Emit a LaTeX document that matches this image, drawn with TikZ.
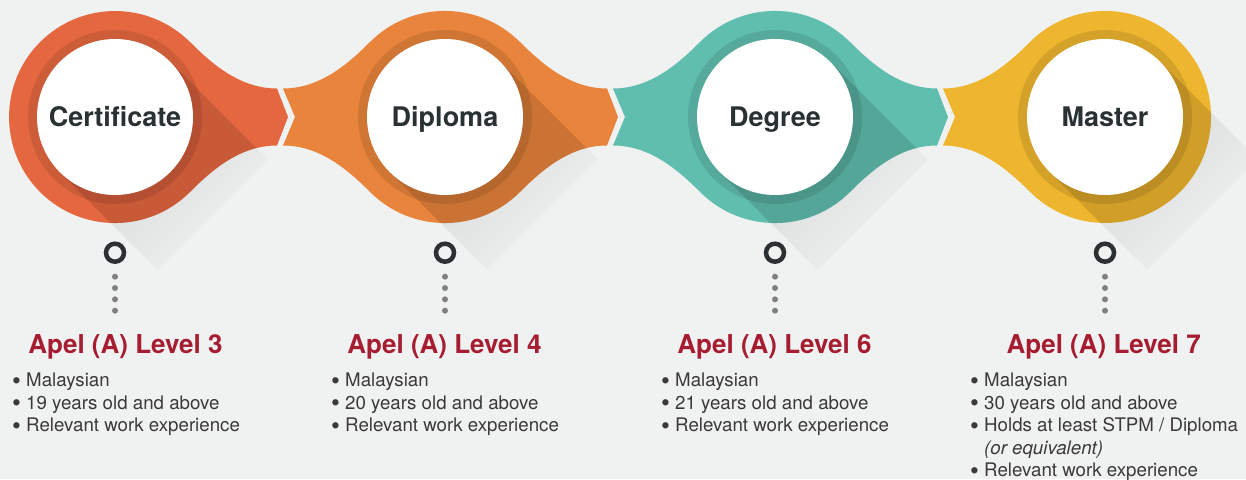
\documentclass[tikz,border=0pt]{standalone}
\usepackage{graphicx}
\usepackage{fontspec}
\setmainfont{TeX Gyre Heros}

\definecolor{bg}{HTML}{F0F1F1}
\definecolor{certred}{HTML}{E5673F}
\definecolor{diporange}{HTML}{E8843C}
\definecolor{degteal}{HTML}{60BEAE}
\definecolor{mastyellow}{HTML}{EEB52E}
\definecolor{levelred}{HTML}{A61C31}
\definecolor{bodygray}{HTML}{3A3A3A}
\definecolor{titlegray}{HTML}{2A3133}
\definecolor{markgray}{HTML}{2B3032}
\definecolor{dotgray}{HTML}{808080}
\definecolor{shadowgray}{HTML}{CDD1D2}

% outline pieces, relative to the centre of a stage
\def\neckR{.. controls (97,53) and (125,28.5) .. (162,28.5) -- (173,0) -- (162,-28.5) .. controls (125,-28.5) and (97,-53) .. (75,-75)}
\def\roundR{arc[start angle=45, end angle=-45, radius=106]}
\def\neckL{.. controls (-97,-53) and (-125,-28.5) .. (-162,-28.5) -- (-150,0) -- (-162,28.5) .. controls (-125,28.5) and (-97,53) .. (-75,75)}
\def\roundL{arc[start angle=-135, end angle=-225, radius=106]}
\def\stageoutline{(75,75) \rside arc[start angle=-45, end angle=-135, radius=106] \lside arc[start angle=135, end angle=45, radius=106] -- cycle}
\def\shadowband{(55.2,55.2) -- (152.8,-42.4) -- (42.4,-152.8) -- (-55.2,-55.2) -- cycle}
\newcommand\bul{\makebox[14pt][l]{\raisebox{-2.3pt}{\scalebox{1.35}{•}}}}

\begin{document}
\begin{tikzpicture}[x=1pt,y=1pt,
  stage/.style={circle,fill=white,minimum size=156pt,inner sep=0pt,
    font=\fontsize{27}{32}\selectfont\bfseries,text=titlegray,
    text height=19pt,text depth=0pt},
  pinring/.style={circle,draw=markgray,line width=4.5pt,minimum size=18pt,inner sep=0pt},
  level/.style={font=\fontsize{26}{30}\selectfont\bfseries,text=levelred,
    anchor=base,inner sep=0pt},
  facts/.style={font=\fontsize{18.7}{22.5}\selectfont,text=bodygray,
    align=left,anchor=base west,inner sep=0pt}]

  \useasboundingbox (0,0) rectangle (1246,479);
  \fill[bg] (0,0) rectangle (1246,479);
  \clip (0,0) rectangle (1246,479);

  \foreach \i/\cx/\col/\name in {1/115/certred/Certificate,2/445/diporange/Diploma,
      3/775/degteal/Degree,4/1105/mastyellow/Master}{
    \ifnum\i=1 \let\lside\roundL \else \let\lside\neckL \fi
    \ifnum\i=4 \let\rside\roundR \else \let\rside\neckR \fi
    \begin{scope}[shift={(\cx,362)}]
      % long shadow
      \shade[top color=shadowgray,bottom color=bg,shading angle=45] \shadowband;
      \fill[\col] \stageoutline;
      \begin{scope}
        \clip \stageoutline;
        \fill[black,opacity=.12] \shadowband;
      \end{scope}
      \fill[black,opacity=.1] (0,0) circle (87);
      \node[stage] (stage\i) at (0,0) {\name};
      \node[pinring] (ring\i) at (0,-135.7) {};
      \foreach \d in {0,...,3}
        \fill[dotgray] (0,-159.7-11.33*\d) circle (3);
    \end{scope}
  }

  \node[level] (level1) at (125.5,125.7) {Apel (A) Level 3};
  \node[level] (level2) at (444.5,125.7) {Apel (A) Level 4};
  \node[level] (level3) at (774.5,125.7) {Apel (A) Level 6};
  \node[level] (level4) at (1103.7,125.7) {Apel (A) Level 7};

  % anchor sits on the last line
  \node[facts] (facts1) at (12,47.3) {\bul Malaysian\\\bul 19 years old and above\\\bul Relevant work experience};
  \node[facts] (facts2) at (331,47.3) {\bul Malaysian\\\bul 20 years old and above\\\bul Relevant work experience};
  \node[facts] (facts3) at (661,47.3) {\bul Malaysian\\\bul 21 years old and above\\\bul Relevant work experience};
  \node[facts] (facts4) at (970,2.3) {\bul Malaysian\\\bul 30 years old and above\\\bul Holds at least STPM / Diploma\\
    \hspace*{14pt}\textit{(or equivalent)}\\\bul Relevant work experience};
\end{tikzpicture}
\end{document}
